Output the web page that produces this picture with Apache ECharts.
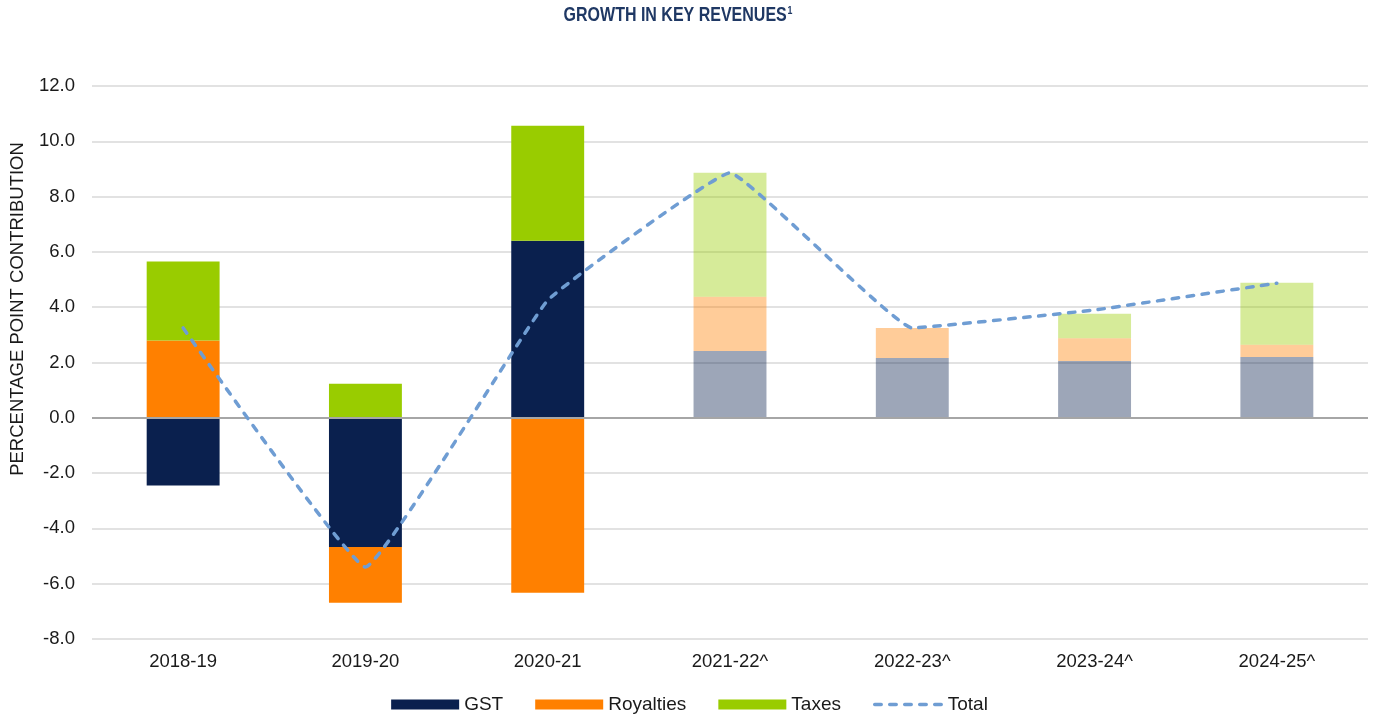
<!DOCTYPE html>
<html lang="en">
<head>
    <meta charset="UTF-8">
    <title>Growth in key revenues</title>
    <style>
        html, body { margin: 0; padding: 0; background: #fff; }
        #main { width: 1379px; height: 716px; }
    </style>
</head>
<body>
<div id="main"></div>
<script src="https://cdn.jsdelivr.net/npm/echarts@6/dist/echarts.min.js"></script>
<script type="text/javascript">
    // data
    var years = ['2018-19', '2019-20', '2020-21', '2021-22^', '2022-23^', '2023-24^', '2024-25^'];
    var gst = [-2.45, -4.67, 6.40, 2.42, 2.16, 2.05, 2.20];
    var royalties = [2.80, -2.02, -6.33, 1.96, 1.09, 0.83, 0.44];
    var taxes = [2.85, 1.23, 4.16, 4.48, 0.00, 0.88, 2.24];
    var total = [3.25, -5.40, 4.25, 8.86, 3.25, 3.90, 4.87];
    var firstForecast = 3; // bars from here on are drawn faded

    var chart = echarts.init(document.getElementById('main'));

    function fade(arr) {
        return arr.map(function (v, i) {
            return i >= firstForecast ? {value: v, itemStyle: {opacity: 0.4}} : v;
        });
    }

    var font = '"Liberation Sans", Arial, sans-serif';
    var txt = '#1a1a1a';

    var option = {
        backgroundColor: '#fff',
        animation: false,
        grid: {left: 92, right: 11, top: 86, bottom: 77},
        legend: {
            top: 690,
            left: 'center',
            itemWidth: 68,
            itemHeight: 10,
            itemGap: 32,
            lineStyle: {width: 3.5},
            textStyle: {fontFamily: font, fontSize: 19, color: txt},
            // Total keeps the line icon, with its marker dot hidden
            data: [
                {name: 'GST', icon: 'rect'},
                {name: 'Royalties', icon: 'rect'},
                {name: 'Taxes', icon: 'rect'},
                {name: 'Total', itemStyle: {opacity: 0}}
            ]
        },
        graphic: [
            {
                // title, narrow bold like the original
                type: 'text',
                x: 678,
                y: 15,
                scaleX: 0.8,
                style: {
                    text: '{t|GROWTH IN KEY REVENUES}{s|1}',
                    align: 'center',
                    verticalAlign: 'middle',
                    rich: {
                        t: {fontFamily: font, fontWeight: 'bold', fontSize: 20, fill: '#1F3864'},
                        s: {fontFamily: font, fontWeight: 'bold', fontSize: 11, fill: '#1F3864', verticalAlign: 'top', padding: [0, 0, 9, 1]}
                    }
                }
            },
            {
                type: 'text',
                x: 18,
                y: 309,
                rotation: Math.PI / 2,
                style: {
                    text: 'PERCENTAGE POINT CONTRIBUTION',
                    fontFamily: font,
                    fontSize: 18.5,
                    fill: txt,
                    align: 'center',
                    verticalAlign: 'middle'
                }
            }
        ],
        xAxis: {
            type: 'category',
            data: years,
            axisLine: {show: false, onZero: false},
            axisTick: {show: false},
            axisLabel: {fontFamily: font, fontSize: 18.5, color: txt, margin: 13}
        },
        yAxis: {
            type: 'value',
            min: -8,
            max: 12,
            interval: 2,
            axisLine: {show: false},
            axisTick: {show: false},
            axisLabel: {
                fontFamily: font, fontSize: 18.5, color: txt, margin: 17,
                formatter: function (v) { return v.toFixed(1); }
            },
            splitLine: {lineStyle: {color: '#D9D9D9', width: 1.5}}
        },
        series: [
            {
                name: 'GST',
                type: 'bar',
                stack: 'rev',
                barWidth: '40%',
                itemStyle: {color: '#0A204E'},
                data: fade(gst),
                markLine: {
                    silent: true,
                    symbol: 'none',
                    label: {show: false},
                    lineStyle: {color: '#A6A6A6', width: 2, type: 'solid'},
                    data: [{yAxis: 0}]
                }
            },
            {
                name: 'Royalties',
                type: 'bar',
                stack: 'rev',
                itemStyle: {color: '#FF8000'},
                data: fade(royalties)
            },
            {
                name: 'Taxes',
                type: 'bar',
                stack: 'rev',
                itemStyle: {color: '#99CC00'},
                data: fade(taxes)
            },
            {
                name: 'Total',
                type: 'line',
                smooth: 0.08,
                symbol: 'none',
                itemStyle: {color: '#6F9DD3'},
                lineStyle: {color: '#6F9DD3', width: 3.5, type: [6.5, 8.5], cap: 'round'},
                data: total,
                z: 5
            }
        ]
    };
    chart.setOption(option);
</script>
</body>
</html>
